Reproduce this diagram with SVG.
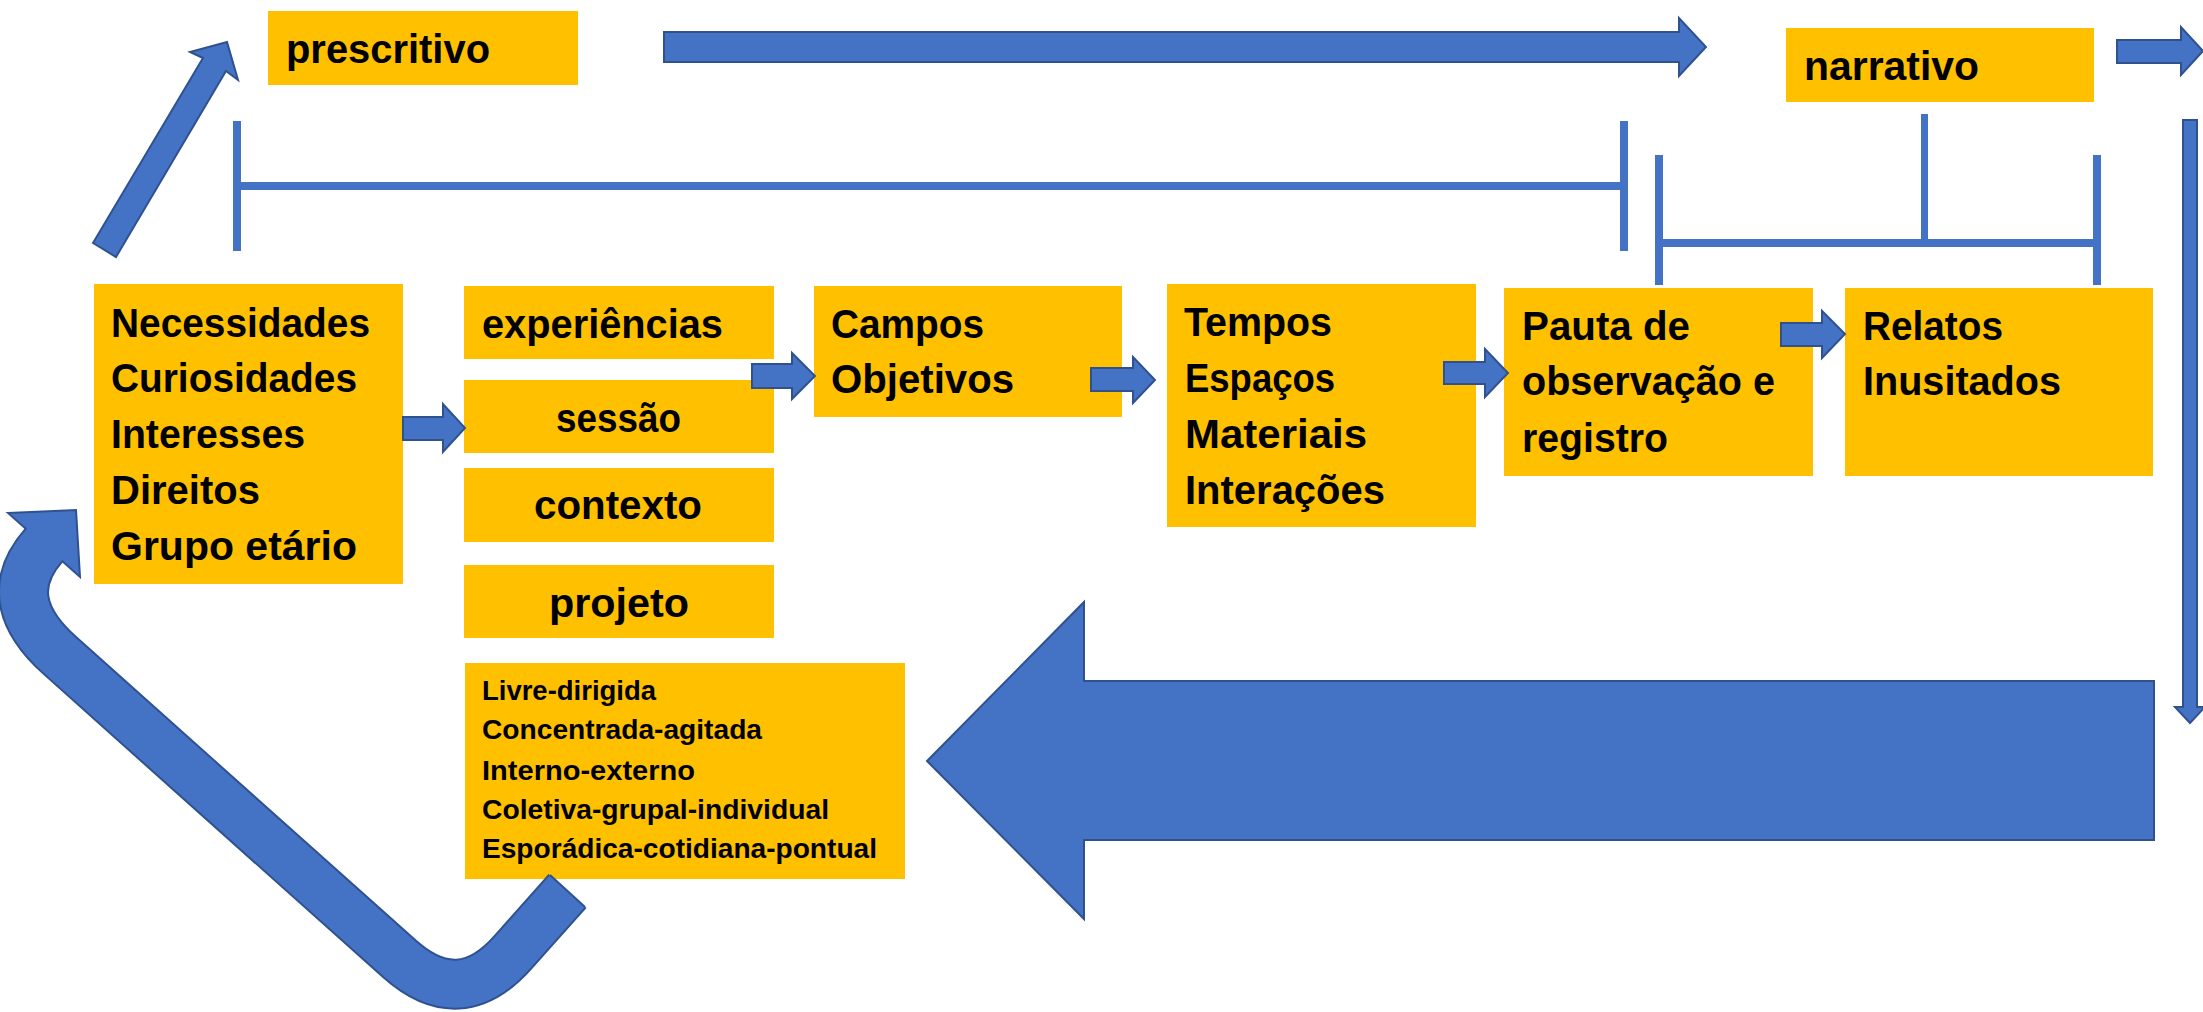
<svg xmlns="http://www.w3.org/2000/svg" width="2203" height="1012" viewBox="0 0 2203 1012">
<style>
.box{fill:#FFC000}
.t{font-family:"Liberation Sans",Arial,sans-serif;font-weight:bold;font-size:40px;fill:#000}
.s{font-family:"Liberation Sans",Arial,sans-serif;font-weight:bold;font-size:28px;fill:#000}
.arr{fill:#4472C4;stroke:#2F528F;stroke-width:2;stroke-linejoin:miter}
.br{fill:#4472C4}
</style>
<rect width="2203" height="1012" fill="#fff"/>
<g id="node-prescritivo">
  <rect class="box" x="268" y="11" width="310" height="74"/>
  <text class="t" x="286" y="63" textLength="204" lengthAdjust="spacingAndGlyphs">prescritivo</text>
</g>
<g id="node-narrativo">
  <rect class="box" x="1786" y="28" width="308" height="74"/>
  <text class="t" x="1804" y="80" textLength="175" lengthAdjust="spacingAndGlyphs">narrativo</text>
</g>
<g id="node-necessidades">
  <rect class="box" x="94" y="284" width="309" height="300"/>
  <text class="t" x="111" y="337" textLength="259" lengthAdjust="spacingAndGlyphs">Necessidades</text>
  <text class="t" x="111" y="392" textLength="246" lengthAdjust="spacingAndGlyphs">Curiosidades</text>
  <text class="t" x="111" y="448" textLength="194" lengthAdjust="spacingAndGlyphs">Interesses</text>
  <text class="t" x="111" y="504" textLength="149" lengthAdjust="spacingAndGlyphs">Direitos</text>
  <text class="t" x="111" y="560" textLength="246" lengthAdjust="spacingAndGlyphs">Grupo etário</text>
</g>
<g id="node-experiencias">
  <rect class="box" x="464" y="286" width="310" height="73"/>
  <text class="t" x="482" y="338" textLength="241" lengthAdjust="spacingAndGlyphs">experiências</text>
</g>
<g id="node-sessao">
  <rect class="box" x="464" y="380" width="310" height="73"/>
  <text class="t" x="556" y="432" textLength="125" lengthAdjust="spacingAndGlyphs">sessão</text>
</g>
<g id="node-contexto">
  <rect class="box" x="464" y="468" width="310" height="74"/>
  <text class="t" x="534" y="519" textLength="168" lengthAdjust="spacingAndGlyphs">contexto</text>
</g>
<g id="node-projeto">
  <rect class="box" x="464" y="565" width="310" height="73"/>
  <text class="t" x="549" y="617" textLength="140" lengthAdjust="spacingAndGlyphs">projeto</text>
</g>
<g id="node-modalidades">
  <rect class="box" x="465" y="663" width="440" height="216"/>
  <text class="s" x="482" y="700" textLength="174" lengthAdjust="spacingAndGlyphs">Livre-dirigida</text>
  <text class="s" x="482" y="739" textLength="280" lengthAdjust="spacingAndGlyphs">Concentrada-agitada</text>
  <text class="s" x="482" y="780" textLength="213" lengthAdjust="spacingAndGlyphs">Interno-externo</text>
  <text class="s" x="482" y="819" textLength="347" lengthAdjust="spacingAndGlyphs">Coletiva-grupal-individual</text>
  <text class="s" x="482" y="858" textLength="395" lengthAdjust="spacingAndGlyphs">Esporádica-cotidiana-pontual</text>
</g>
<g id="node-campos">
  <rect class="box" x="814" y="286" width="308" height="131"/>
  <text class="t" x="831" y="338" textLength="153" lengthAdjust="spacingAndGlyphs">Campos</text>
  <text class="t" x="831" y="393" textLength="183" lengthAdjust="spacingAndGlyphs">Objetivos</text>
</g>
<g id="node-tempos">
  <rect class="box" x="1167" y="284" width="309" height="243"/>
  <text class="t" x="1184" y="336" textLength="148" lengthAdjust="spacingAndGlyphs">Tempos</text>
  <text class="t" x="1185" y="392" textLength="150" lengthAdjust="spacingAndGlyphs">Espaços</text>
  <text class="t" x="1185" y="448" textLength="182" lengthAdjust="spacingAndGlyphs">Materiais</text>
  <text class="t" x="1185" y="504" textLength="200" lengthAdjust="spacingAndGlyphs">Interações</text>
</g>
<g id="node-pauta">
  <rect class="box" x="1504" y="288" width="309" height="188"/>
  <text class="t" x="1522" y="340" textLength="168" lengthAdjust="spacingAndGlyphs">Pauta de</text>
  <text class="t" x="1522" y="395" textLength="253" lengthAdjust="spacingAndGlyphs">observação e</text>
  <text class="t" x="1522" y="452" textLength="146" lengthAdjust="spacingAndGlyphs">registro</text>
</g>
<g id="node-relatos">
  <rect class="box" x="1845" y="288" width="308" height="188"/>
  <text class="t" x="1863" y="340" textLength="140" lengthAdjust="spacingAndGlyphs">Relatos</text>
  <text class="t" x="1863" y="395" textLength="198" lengthAdjust="spacingAndGlyphs">Inusitados</text>
</g>
<g id="connectors">
  <polygon class="arr" points="93,243 203,58 190,52 227,42 238,80 226,71 116,257"/>
  <rect class="br" x="233" y="121" width="8" height="130"/>
  <rect class="br" x="241" y="182" width="1380" height="8"/>
  <rect class="br" x="1620" y="121" width="8" height="130"/>
  <rect class="br" x="1655" y="155" width="8" height="130"/>
  <rect class="br" x="1663" y="239" width="431" height="8"/>
  <rect class="br" x="2093" y="155" width="8" height="130"/>
  <rect class="br" x="1921" y="114" width="7" height="126"/>
  <polygon class="arr" points="664,32 1679,32 1679,18 1706,47 1679,76 1679,62 664,62"/>
  <polygon class="arr" points="2117,40 2181,40 2181,27 2203,51 2181,75 2181,63 2117,63"/>
  <polygon class="arr" points="2183,120 2197,120 2197,707 2205,707 2190,723 2175,707 2183,707"/>
  <polygon class="arr" points="2154,681 1084,681 1084,602 927,761 1084,919 1084,840 2154,840"/>
  <polygon class="arr" points="403,417 443,417 443,404 465,428 443,452 443,440 403,440"/>
  <polygon class="arr" points="752,364 792,364 792,353 815,376 792,399 792,388 752,388"/>
  <polygon class="arr" points="1091,368 1133,368 1133,357 1155,380 1133,403 1133,391 1091,391"/>
  <polygon class="arr" points="1444,362 1485,362 1485,349 1508,373 1485,397 1485,384 1444,384"/>
  <polygon class="arr" points="1781,323 1822,323 1822,311 1845,334 1822,358 1822,346 1781,346"/>
  <path d="M46,542.7 L44,545 C11,582.5 19,619 60,655.6 L399.7,959.1 Q459.4,1012.4 512.6,952.6 L567.5,891" fill="none" stroke="#2F528F" stroke-width="51" stroke-linejoin="round"/>
  <polygon class="arr" points="8,513 76,510 80,577"/>
  <path d="M46,542.7 L44,545 C11,582.5 19,619 60,655.6 L399.7,959.1 Q459.4,1012.4 512.6,952.6 L567.5,891" fill="none" stroke="#4472C4" stroke-width="47" stroke-linejoin="round"/>
  <line x1="550" y1="875" x2="585" y2="907" stroke="#2F528F" stroke-width="2"/>
</g>
</svg>
